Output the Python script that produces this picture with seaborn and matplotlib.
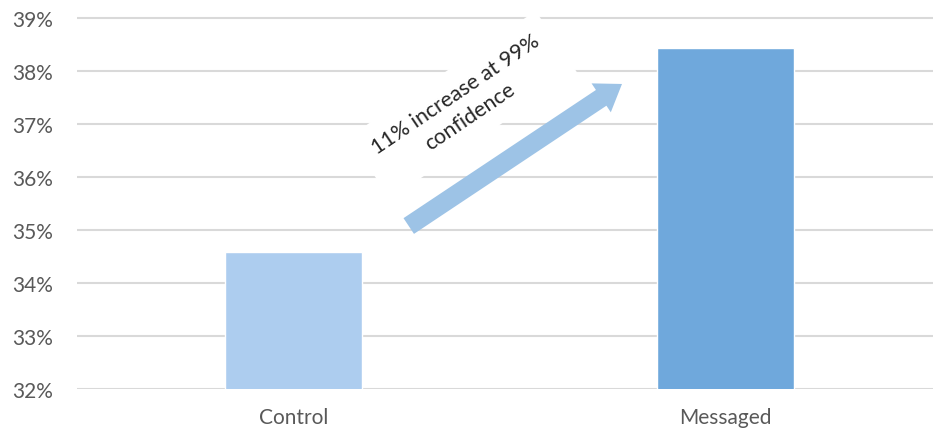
import matplotlib
matplotlib.use("Agg")
import matplotlib.pyplot as plt
import seaborn as sns
import pandas as pd
from matplotlib.ticker import FuncFormatter

# Conversion rate per group (percent)
groups = ["Control", "Messaged"]
rates = [34.58, 38.43]
bar_colors = ["#ADCDEF", "#6FA8DC"]
y_ticks = [32, 33, 34, 35, 36, 37, 38, 39]
note = "11% increase at 99%\nconfidence"

sns.set_theme(style="white")
plt.rcParams["font.family"] = ["Lato", "DejaVu Sans"]

df = pd.DataFrame({"group": groups, "rate": rates})

fig = plt.figure(figsize=(9.33, 4.39), dpi=100)
ax = fig.add_axes([0.0825, 0.1116, 0.9175, 0.8512])

ax.set_axisbelow(True)
for t in y_ticks:
    ax.axhline(t, color="#D9D9D9", lw=1.5, zorder=0)

sns.barplot(data=df, x="group", y="rate", hue="group", palette=bar_colors,
            saturation=1, width=0.317, legend=False, ax=ax, zorder=2)

ax.set_ylim(32, 39.05)
ax.set_xlim(-0.5, 1.479)
ax.set_yticks(y_ticks)
ax.yaxis.set_major_formatter(FuncFormatter(lambda v, _: f"{v:.0f}%"))
ax.set_xlabel("")
ax.set_ylabel("")
ax.tick_params(axis="both", length=0, labelsize=15, colors="#595959")
ax.tick_params(axis="y", pad=17)
ax.tick_params(axis="x", pad=13)
for s in ax.spines.values():
    s.set_visible(False)

# Arrow from the control bar towards the messaged bar
ax.annotate("", xy=(0.76, 37.755), xytext=(0.267, 35.075),
            arrowprops=dict(arrowstyle="simple,head_length=0.9,head_width=1.25,tail_width=0.68",
                            mutation_scale=20, color="#9DC3E6", lw=0,
                            shrinkA=0, shrinkB=0), zorder=4)

ax.text(0.392, 37.36, note, rotation=34, ha="center", va="center",
        rotation_mode="anchor", fontsize=15.5, color="#262626", linespacing=1.4,
        bbox=dict(facecolor="white", edgecolor="none", pad=10), zorder=3)

fig.savefig("out.png", dpi=100)
